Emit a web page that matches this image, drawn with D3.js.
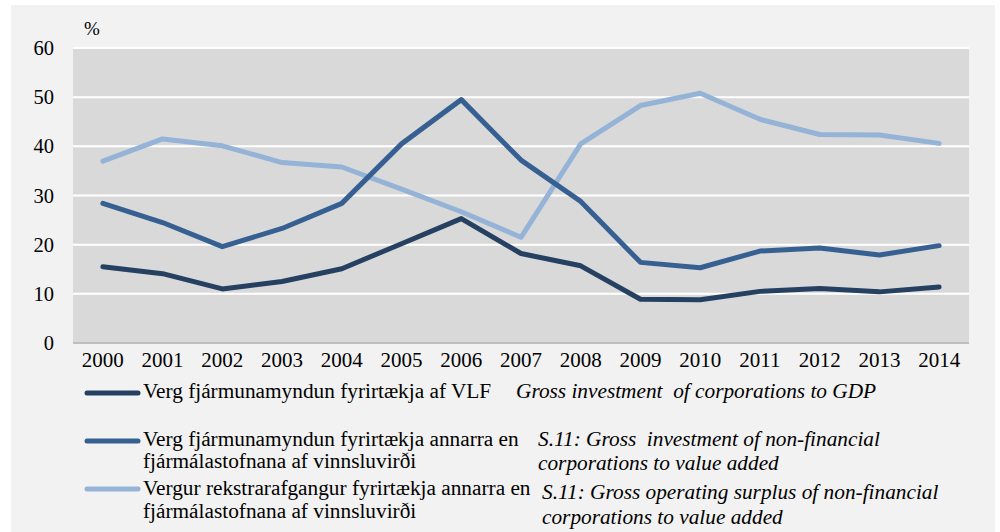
<!DOCTYPE html>
<html>
<head>
<meta charset="utf-8">
<script src="https://cdn.jsdelivr.net/npm/d3@7"></script>
<style>
  body { margin: 0; background: #fff; }
</style>
</head>
<body>
<svg id="chart" width="1000" height="532" font-family="'Liberation Serif', 'DejaVu Serif', serif"></svg>
<script>
let years = ['2000', '2001', '2002', '2003', '2004', '2005', '2006', '2007',
  '2008', '2009', '2010', '2011', '2012', '2013', '2014']
let yTicks = [0, 10, 20, 30, 40, 50, 60]

// Verg fjármunamyndun fyrirtækja af VLF
let investGdp = [15.5, 14.1, 11.0, 12.5, 15.1, 20.2, 25.3, 18.2, 15.7, 8.9, 8.8, 10.5, 11.1, 10.4, 11.4]
// Verg fjármunamyndun fyrirtækja annarra en fjármálastofnana af vinnsluvirði
let investVa = [28.4, 24.5, 19.6, 23.3, 28.4, 40.5, 49.5, 37.2, 28.8, 16.4, 15.3, 18.7, 19.3, 17.9, 19.8]
// Vergur rekstrarafgangur fyrirtækja annarra en fjármálastofnana af vinnsluvirði
let surplusVa = [37.0, 41.5, 40.1, 36.7, 35.8, 31.3, 26.7, 21.5, 40.5, 48.3, 50.8, 45.5, 42.4, 42.3, 40.6]

let seriesNames = [
  ['Verg fjármunamyndun fyrirtækja af VLF'],
  ['Verg fjármunamyndun fyrirtækja annarra en', 'fjármálastofnana af vinnsluvirði'],
  ['Vergur rekstrarafgangur fyrirtækja annarra en', 'fjármálastofnana af vinnsluvirði']
]
let seriesNamesEn = [
  ['Gross investment  of corporations to GDP'],
  ['S.11: Gross  investment of non-financial', 'corporations to value added'],
  ['S.11: Gross operating surplus of non-financial', 'corporations to value added']
]
let colors = ['#254061', '#376092', '#95b3d7']

let series = [investGdp, investVa, surplusVa]

let svg = d3.select('#chart')

// outer panel
svg.append('rect')
  .attr('x', 11)
  .attr('y', 5)
  .attr('width', 984)
  .attr('height', 527)
  .style('fill', '#f2f2f2')

let plotLeft = 73
let plotRight = 969
let plotTop = 48
let plotBottom = 343

let x = d3.scaleBand().domain(years).range([plotLeft, plotRight])
let y = d3.scaleLinear().domain([0, 60]).range([plotBottom, plotTop])

// plot area
svg.append('rect')
  .attr('x', plotLeft)
  .attr('y', plotTop)
  .attr('width', plotRight - plotLeft)
  .attr('height', plotBottom - plotTop)
  .style('fill', '#d9d9d9')

// gridlines
svg.append('g')
  .selectAll('line')
  .data(yTicks.filter(function (d) { return d > 0 }))
  .enter()
  .append('line')
  .attr('x1', plotLeft)
  .attr('x2', plotRight)
  .attr('y1', function (d) { return y(d) })
  .attr('y2', function (d) { return y(d) })
  .style('stroke', '#fff')
  .style('stroke-width', 2)

// x axis line
svg.append('line')
  .attr('x1', plotLeft)
  .attr('x2', plotRight)
  .attr('y1', y(0))
  .attr('y2', y(0))
  .style('stroke', '#bfbfbf')
  .style('stroke-width', 2)

// y tick labels
svg.append('g')
  .selectAll('text')
  .data(yTicks)
  .enter()
  .append('text')
  .attr('x', 54)
  .attr('y', function (d) { return y(d) + 7 })
  .attr('text-anchor', 'end')
  .style('font-size', '20.5px')
  .text(function (d) { return d })

// x tick labels
svg.append('g')
  .selectAll('text')
  .data(years)
  .enter()
  .append('text')
  .attr('x', function (d) { return x(d) + x.bandwidth() / 2 })
  .attr('y', 367)
  .attr('text-anchor', 'middle')
  .style('font-size', '21px')
  .text(function (d) { return d })

svg.append('text')
  .attr('x', 84)
  .attr('y', 35)
  .style('font-size', '19px')
  .text('%')

// lines
let line = d3.line()
  .x(function (d, i) { return x(years[i]) + x.bandwidth() / 2 })
  .y(function (d) { return y(d) })

svg.append('g')
  .selectAll('path')
  .data([2, 1, 0])
  .enter()
  .append('path')
  .attr('d', function (k) { return line(series[k]) })
  .style('fill', 'none')
  .style('stroke', function (k) { return colors[k] })
  .style('stroke-width', 5)
  .style('stroke-linecap', 'round')
  .style('stroke-linejoin', 'round')

// legend
let legendY = [393, 441, 489]
let nameY = [[398], [446, 468], [495, 518]]
let enY = [[398], [446, 470], [499, 524]]
let enX = [516, 538, 542]

let legend = svg.append('g')
  .selectAll('g')
  .data([0, 1, 2])
  .enter()
  .append('g')

legend.append('line')
  .attr('x1', 87)
  .attr('x2', 138)
  .attr('y1', function (k) { return legendY[k] })
  .attr('y2', function (k) { return legendY[k] })
  .style('stroke', function (k) { return colors[k] })
  .style('stroke-width', 5)
  .style('stroke-linecap', 'round')

legend.each(function (k) {
  let g = d3.select(this)
  seriesNames[k].forEach(function (t, j) {
    g.append('text')
      .attr('x', 143)
      .attr('y', nameY[k][j])
      .style('font-size', '21.3px')
      .text(t)
  })
  seriesNamesEn[k].forEach(function (t, j) {
    g.append('text')
      .attr('x', enX[k])
      .attr('y', enY[k][j])
      .style('font-size', '21.3px')
      .style('font-style', 'italic')
      .style('white-space', 'pre')
      .text(t)
  })
})
</script>
</body>
</html>
